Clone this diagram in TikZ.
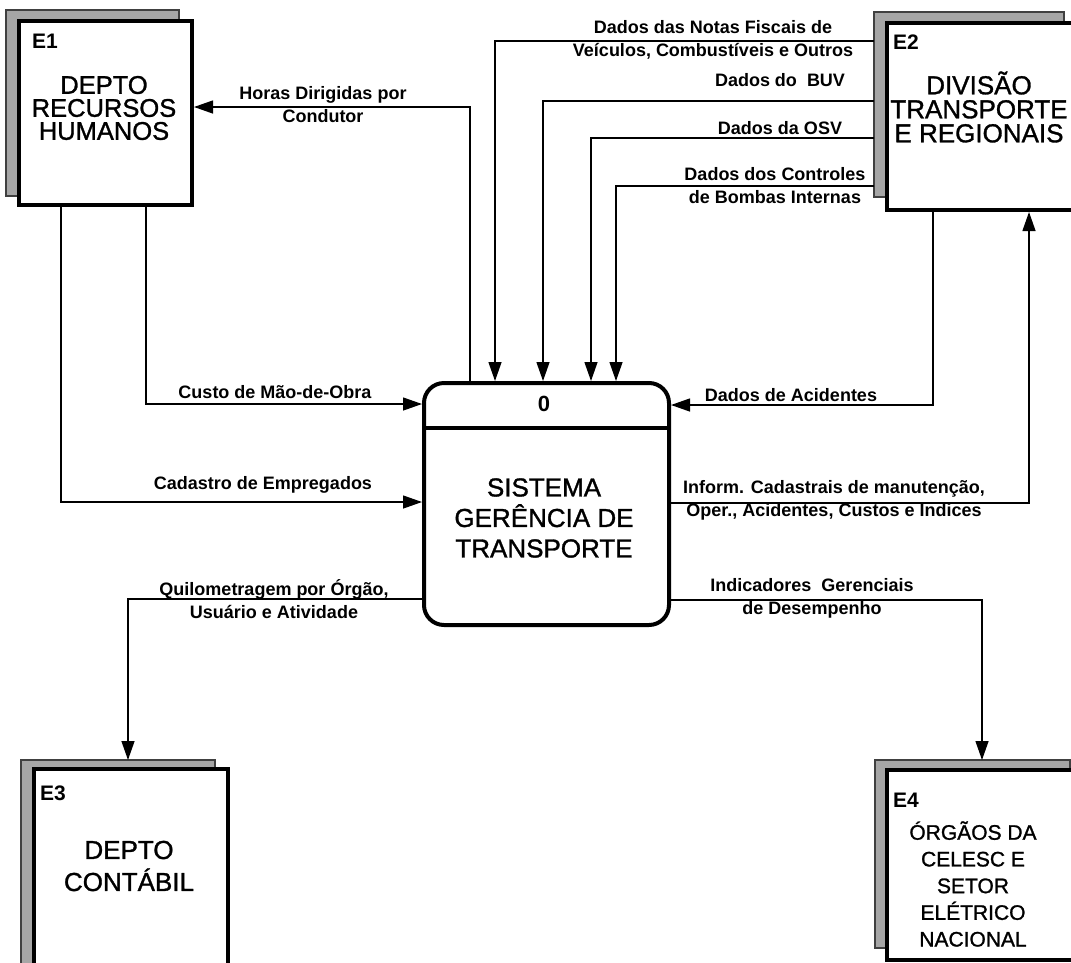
\documentclass[tikz,border=0pt]{standalone}
\usepackage{fontspec}
\setmainfont{Liberation Sans}
\newfontfamily\heavysans[FakeBold=1.2]{Liberation Sans}
\usetikzlibrary{arrows.meta}
\begin{document}
\begin{tikzpicture}[x=1pt,y=-1pt,
  shadowbox/.style={draw=black!75, line width=1.2pt, fill=black!35, anchor=north west, inner sep=0pt, outer sep=0pt},
  entbox/.style={draw, line width=4pt, fill=white, anchor=north west, inner sep=0pt, outer sep=2pt},
  procbox/.style={draw, line width=4pt, fill=white, rounded corners=20pt, anchor=north west, inner sep=0pt, outer sep=2pt},
  flow/.style={line width=1.3pt, -{Triangle[length=19pt,width=13pt]}},
  lbl/.style={font=\bfseries\fontsize{18}{23}\selectfont, align=center, inner sep=0pt},
  tag/.style={font=\bfseries\fontsize{21}{21}\selectfont, anchor=west, inner sep=0pt},
  ename/.style={align=center, inner sep=0pt}]
\clip (0,0) rectangle (1071,962);
\fill[white] (0,0) rectangle (1071,962);

% external entities: stippled offset frame behind a heavy white box
\node[shadowbox, minimum width=173pt, minimum height=186pt] (e1s) at (6,10) {};
\node[entbox, minimum width=173pt, minimum height=184pt] (e1) at (17,19) {};
\node[shadowbox, minimum width=190pt, minimum height=185pt] (e2s) at (874,12) {};
\node[entbox, minimum width=190pt, minimum height=187pt] (e2) at (885,21) {};
\node[shadowbox, minimum width=194pt, minimum height=250pt] (e3s) at (21,760) {};
\node[entbox, minimum width=194pt, minimum height=260pt] (e3) at (32,767) {};
\node[shadowbox, minimum width=195pt, minimum height=188pt] (e4s) at (875,760) {};
\node[entbox, minimum width=195pt, minimum height=190pt] (e4) at (885,768) {};

% process
\node[procbox, minimum width=245pt, minimum height=242pt] (proc) at (422,381) {};
\coordinate (div) at (0,428);
\draw[line width=3.5pt, shorten <=2pt, shorten >=2pt] (proc.west |- div) -- (proc.east |- div);

% entity texts
\node[tag] (e1tag) at (32,41) {E1};
\node[ename, font=\heavysans\fontsize{25.5}{23}\selectfont] (e1name) at (104,108) {DEPTO\\RECURSOS\\HUMANOS};
\node[tag] (e2tag) at (893,42) {E2};
\node[ename, font=\heavysans\fontsize{26}{24}\selectfont] (e2name) at (979,107) {DIVISÃO\\TRANSPORTE\\E REGIONAIS};
\node[tag] (e3tag) at (40,793) {E3};
\node[ename, font=\heavysans\fontsize{26}{32}\selectfont] (e3name) at (129,866) {DEPTO\\CONTÁBIL};
\node[tag] (e4tag) at (893,800) {E4};
\node[ename, font=\heavysans\fontsize{21}{26.7}\selectfont] (e4name) at (973,884) {ÓRGÃOS DA\\CELESC E\\SETOR\\ELÉTRICO\\NACIONAL};

% process texts
\node[font=\bfseries\fontsize{22}{22}\selectfont, inner sep=0pt] (pnum) at (544,404) {0};
\node[ename, font=\heavysans\fontsize{26}{30.5}\selectfont] (pname) at (544,518) {SISTEMA\\GERÊNCIA DE\\TRANSPORTE};

% bend points of the data flows
\coordinate (hb) at (470,107);
\coordinate (nb) at (495,41);
\coordinate (bb) at (543,101);
\coordinate (ob) at (591,138);
\coordinate (cb) at (616,186);
\coordinate (mb) at (146,404);
\coordinate (kb) at (61,502);
\coordinate (ab) at (933,405);
\coordinate (ib) at (1029,503);
\coordinate (qb) at (128,599);
\coordinate (db) at (982,600);

% data flows
\draw[flow] (hb |- proc.north) -- (hb) -- (hb -| e1.east);
\draw[flow] (nb -| e2s.west) -- (nb) -- (nb |- proc.north);
\draw[flow] (bb -| e2s.west) -- (bb) -- (bb |- proc.north);
\draw[flow] (ob -| e2s.west) -- (ob) -- (ob |- proc.north);
\draw[flow] (cb -| e2s.west) -- (cb) -- (cb |- proc.north);
\draw[flow] (mb |- e1.south) -- (mb) -- (mb -| proc.west);
\draw[flow] (kb |- e1.south) -- (kb) -- (kb -| proc.west);
\draw[flow] (ab |- e2.south) -- (ab) -- (ab -| proc.east);
\draw[flow] (ib -| proc.east) -- (ib) -- (ib |- e2.south);
\draw[flow] (qb -| proc.west) -- (qb) -- (qb |- e3s.north);
\draw[flow] (db -| proc.east) -- (db) -- (db |- e4s.north);

% flow labels
\node[lbl] (lh) at (323,105) {Horas Dirigidas por\\Condutor};
\node[lbl] (ln) at (713,40) {Dados das Notas Fiscais de\\Veículos, Combustíveis e Outros};
\node[lbl] (lb) at (780,80) {Dados do~ BUV};
\node[lbl] (lo) at (780,128) {Dados da OSV};
\node[lbl] (lc) at (775,186) {Dados dos Controles\\de Bombas Internas};
\node[lbl] (lm) at (275,392) {Custo de Mão-de-Obra};
\node[lbl] (lk) at (263,485) {Cadastro de Empregados};
\node[lbl] (la) at (791,395) {Dados de Acidentes};
\node[lbl] (li) at (834,500) {Inform. Cadastrais de manutenção,\\Oper., Acidentes, Custos e Indices};
\node[lbl] (lq) at (274,599) {Quilometragem por Órgão,\\Usuário e Atividade};
\node[lbl] (ld) at (812,598) {Indicadores~ Gerenciais\\de Desempenho};
\end{tikzpicture}
\end{document}
